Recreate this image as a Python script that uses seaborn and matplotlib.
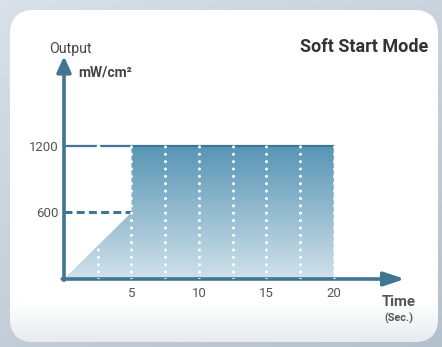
import numpy as np
import pandas as pd
import seaborn as sns
import matplotlib.pyplot as plt
from matplotlib.patches import FancyBboxPatch, Polygon
from matplotlib.colors import LinearSegmentedColormap

# ---- data ----
time = [0, 5, 5, 20]
output = [0, 600, 1200, 1200]
level_time = [0, 20]
level_output = [1200, 1200]
half_time = [0, 5]
half_output = [600, 600]
grid_x = [2.5, 5, 7.5, 10, 12.5, 15, 17.5, 20]
grid_top = [300, 1200, 1200, 1200, 1200, 1200, 1200, 1200]
xticks = [5, 10, 15, 20]
yticks = [600, 1200]

sns.set_theme(style="white")
plt.rcParams['font.family'] = ['Roboto', 'DejaVu Sans']

AX = '#417594'
fig = plt.figure(figsize=(4.42, 3.47), dpi=100)

# background + card (pixel coordinates)
bg = fig.add_axes([0, 0, 1, 1])
bg.set_xlim(0, 442); bg.set_ylim(347, 0); bg.axis('off')
yy, xx = np.mgrid[0:347, 0:442]
bgval = (xx / 442.0) * 0.4 + (yy / 347.0) * 0.6
bg.imshow(bgval, extent=[0, 442, 347, 0], cmap=LinearSegmentedColormap.from_list('b', ['#d8e0e8', '#b3c1ce']),
          aspect='auto', zorder=0)
card = FancyBboxPatch((10, 10), 428, 332, boxstyle='round,pad=0,rounding_size=24',
                      fc='white', ec='none', zorder=1)
bg.add_patch(card)
shade = np.linspace(0, 1, 50).reshape(-1, 1)
im = bg.imshow(shade, extent=[10, 438, 342, 300], origin='upper',
               cmap=LinearSegmentedColormap.from_list('s', ['#ffffff', '#e8ebee']), aspect='auto', zorder=2)
im.set_clip_path(card)
bg.set_xlim(0, 442); bg.set_ylim(347, 0)

bg.text(428, 47, 'Soft Start Mode', ha='right', va='center', fontsize=13, fontweight='bold', color='#333333')
bg.text(49, 49, 'Output', ha='left', va='center', fontsize=10.2, color='#444444')
bg.text(78, 72, 'mW/cm²', ha='left', va='center', fontsize=10, fontweight='bold', color='#444444')
bg.text(399, 302, 'Time', ha='center', va='center', fontsize=10.7, fontweight='bold', color='#555555')
bg.text(399, 318, '(Sec.)', ha='center', va='center', fontsize=7.8, fontweight='bold', color='#555555')

# main axes
ax = fig.add_axes([64 / 442, (347 - 279) / 347, 344 / 442, 224 / 347])
ax.patch.set_alpha(0)
for s in ax.spines.values():
    s.set_visible(False)

verts = list(zip(time, output)) + [(time[-1], 0)]
poly = Polygon(verts, closed=True, fc='none', ec='none')
ax.add_patch(poly)
grad = np.linspace(0, 1, 200).reshape(-1, 1)
gim = ax.imshow(grad, extent=[0, 20, 0, 1200], origin='lower', aspect='auto',
                cmap=LinearSegmentedColormap.from_list('g', ['#d0e1eb', '#5795b4']), zorder=1)
gim.set_clip_path(poly)

sns.lineplot(x=level_time, y=level_output, ax=ax, color=AX, lw=1.6, zorder=2)
sns.lineplot(x=half_time, y=half_output, ax=ax, color=AX, lw=2.2, zorder=2,
             linestyle=(0, (2.6, 1.4)))

# axes arrows
ax.annotate('', xy=(0, 2010), xytext=(0, -12),
            arrowprops=dict(arrowstyle='-|>,head_length=0.95,head_width=0.43', color=AX, lw=2.6,
                            shrinkA=0, shrinkB=0, mutation_scale=10), zorder=3)
ax.annotate('', xy=(25.26, 0), xytext=(-0.13, 0),
            arrowprops=dict(arrowstyle='-|>,head_length=1.25,head_width=0.42', color=AX, lw=2.6,
                            shrinkA=0, shrinkB=0, mutation_scale=10), zorder=3)

# dotted grid
for gx, gt in zip(grid_x, grid_top):
    ax.plot([gx, gx], [0, gt], color='white', lw=2.2, linestyle=(0, (0.01, 2.4)),
            dash_capstyle='round', zorder=4)
ax.plot(grid_x[0], 1200, 'o', color='white', ms=2.6, mew=0, zorder=4)

ax.set_xlim(0, 25.5)
ax.set_ylim(0, 2021)
ax.set_xticks(xticks)
ax.set_yticks(yticks)
ax.set_xticklabels([str(v) for v in xticks])
ax.set_yticklabels([str(v) for v in yticks])
ax.tick_params(axis='both', length=0, labelsize=9.5, labelcolor='#555555')
ax.tick_params(axis='x', pad=6)
ax.tick_params(axis='y', pad=4)
ax.set_xlabel(''); ax.set_ylabel('')
ax.grid(False)

fig.savefig('out.png', dpi=100)
